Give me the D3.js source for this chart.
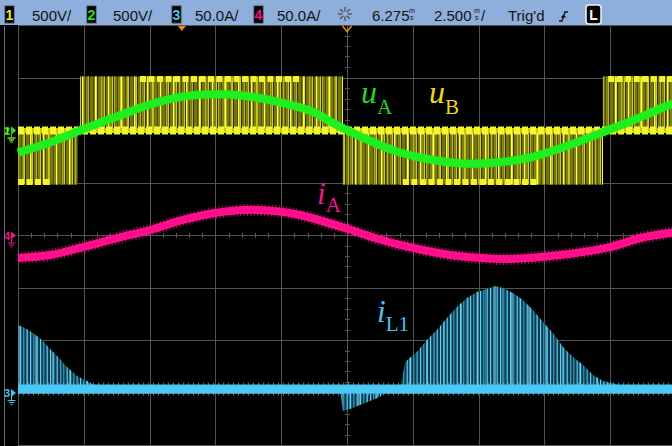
<!DOCTYPE html>
<html>
<head>
<meta charset="utf-8">
<script src="https://cdn.jsdelivr.net/npm/d3@7"></script>
<style>
  html, body { margin: 0; padding: 0; background: #000; overflow: hidden; }
  svg { display: block; }
</style>
</head>
<body>
<svg id="scope" width="672" height="446"></svg>
<script>
// ---------------- data ----------------
// status bar
const channelIds = ["1", "2", "3", "4"];
const channelScales = ["500V/", "500V/", "50.0A/", "50.0A/"];
const delayText = "6.275";
const timebaseText = "2.500";
const triggerText = "Trig'd";

// time base: ms, 2.5 ms/div, delay 6.275 ms at screen centre
const timeStart = -6.225, timeEnd = 18.775, delayMs = 6.275, msPerDiv = 2.5;

// phase voltage u_A (ch2), ms -> V
const uA_t = [-6.225, -5.01, -3.87, -2.46, -1.21, 0.04, 0.92, 1.75, 2.82, 3.92, 5.06, 5.63,
              6.88, 8.17, 9.43, 10.68, 11.97, 13.23, 14.48, 15.77, 17.03, 18.28, 18.775];
const uA_v = [-210, -114, 0, 133, 248, 324, 343, 343, 314, 257, 171, 86,
              -67, -200, -276, -314, -305, -257, -162, -38, 86, 219, 267];

// switched voltage u_B (ch1): PWM half-cycle segments, ms and polarity
const pwmStart = [-6.225, -3.87, 6.12, 16.0];
const pwmEnd   = [-3.95, 6.12, 16.0, 18.775];
const pwmSign  = [-1, 1, -1, 1];
const uDC = 515;
// spans where the output dwells at the full level
const dwellStart = [-6.225, -1.59, 8.40, 16.2];
const dwellEnd   = [-5.0, 4.49, 13.49, 18.775];
const dwellSign  = [-1, 1, -1, 1];

// phase current i_A (ch4), ms -> A
const iA_t = [-6.225, -5.01, -3.76, -2.46, -1.21, 0.04, 1.26, 2.40, 3.54, 4.49, 6.20, 7.34,
              8.29, 10.19, 11.33, 12.47, 14.37, 16.27, 17.41, 18.775];
const iA_v = [-21.4, -18.6, -11.0, -2.4, 5.2, 14.8, 21.4, 24.3, 23.3, 19.5, 7.1, -2.4,
              -9.0, -18.6, -21.4, -22.4, -18.6, -11.0, -2.4, 3.3];

// inductor current i_L1 (ch3): baseline and spike envelopes, ms -> A
const iL1_base = 3.8;
const iL1Decay_t = [-6.225, -5.96, -5.655, -5.313, -5.009, -4.705, -4.363, -3.983, -3.603, -3.299, -3.034];
const iL1Decay_v = [64.8, 61.9, 57.1, 50.5, 41.9, 34.3, 24.8, 16.2, 11.4, 7.6, 3.8];
const iL1Hump_t = [8.29, 8.48, 8.93, 9.31, 9.69, 10.07, 10.45, 10.83, 11.21, 11.59, 11.90, 12.20,
                   12.58, 12.96, 13.34, 13.72, 14.10, 14.48, 14.86, 15.24, 15.62, 16.00, 16.38, 16.65, 16.88];
const iL1Hump_v = [3.8, 29.5, 39.0, 50.5, 60.0, 71.4, 81.9, 90.5, 96.2, 99.0, 101.9, 100.0,
                   95.2, 88.6, 79.0, 67.6, 57.1, 43.8, 34.3, 26.7, 17.1, 11.4, 9.5, 6.7, 3.8];
const iL1Dip_t = [6.01, 6.12, 6.39, 6.77, 7.15, 7.53, 7.83];
const iL1Dip_v = [3.8, -17.1, -15.2, -11.4, -7.6, -3.8, 3.8];

// ---------------- scales ----------------
const svg = d3.select("#scope");
const W = 672, H = 446;
const x = d3.scaleLinear().domain([timeStart, timeEnd]).range([18, 676]);
const yDiv = d3.scaleLinear().domain([4, -4]).range([25.5, 445.5]);
const yU = d3.scaleLinear().domain([0, 500]).range([yDiv(2), yDiv(3)]);       // ch1/ch2, 500 V/div
const yI4 = d3.scaleLinear().domain([0, 50]).range([yDiv(0), yDiv(1)]);       // ch4, 50 A/div
const yI3 = d3.scaleLinear().domain([0, 50]).range([yDiv(-3), yDiv(-2)]);     // ch3, 50 A/div

const zip = (a, b) => a.map((d, i) => [d, b[i]]);

svg.append("rect").attr("width", W).attr("height", H).attr("fill", "#000");

// ---------------- textures ----------------
const defs = svg.append("defs");
function stripes(id, width, bars) {
  const p = defs.append("pattern").attr("id", id).attr("patternUnits", "userSpaceOnUse")
    .attr("width", width).attr("height", 8);
  bars.forEach(b => p.append("rect").attr("x", b[0]).attr("y", 0).attr("width", b[1]).attr("height", 8).attr("fill", b[2]));
}
stripes("pwmA", 8, [[0, 1, "#e8e824"], [2, 0.8, "#8c8c12"], [3.5, 1, "#cccc1c"], [5.4, 0.7, "#66660c"], [6.5, 1, "#e4e42a"]]);
stripes("pwmB", 13, [[4, 1.4, "#ffff44"], [10, 1, "#b4b41a"]]);
stripes("spkA", 10, [[0, 1.2, "#5ad2f8"], [3.3, 1, "#3aa8d0"], [6.6, 1.2, "#55cdf5"]]);
stripes("spkB", 17, [[1.5, 1, "#7fe0ff"], [9, 0.8, "#2f8fb4"]]);

// ---------------- graticule ----------------
const grid = svg.append("g").attr("stroke", "#555").attr("stroke-width", 1).attr("shape-rendering", "crispEdges");
const divTimes = d3.range(0, 11).map(i => timeStart + i * msPerDiv);
grid.selectAll("line.v").data(divTimes).join("line")
  .attr("x1", d => Math.round(x(d)) + 0.5).attr("x2", d => Math.round(x(d)) + 0.5)
  .attr("y1", yDiv(4)).attr("y2", yDiv(-4));
grid.selectAll("line.h").data(d3.range(-4, 5)).join("line")
  .attr("x1", x(timeStart)).attr("x2", x(timeEnd))
  .attr("y1", d => Math.floor(yDiv(d)) + 0.5).attr("y2", d => Math.floor(yDiv(d)) + 0.5);
// minor ticks on the centre axes
const minorT = d3.range(0, 51).map(i => timeStart + i * msPerDiv / 5);
grid.selectAll("line.mt").data(minorT).join("line")
  .attr("x1", d => Math.round(x(d)) + 0.5).attr("x2", d => Math.round(x(d)) + 0.5)
  .attr("y1", Math.floor(yDiv(0)) - 2).attr("y2", Math.floor(yDiv(0)) + 3);
const minorV = d3.range(-20, 21).map(i => i / 5);
grid.selectAll("line.mv").data(minorV).join("line")
  .attr("x1", Math.round(x(delayMs)) - 2).attr("x2", Math.round(x(delayMs)) + 3)
  .attr("y1", d => Math.floor(yDiv(d)) + 0.5).attr("y2", d => Math.floor(yDiv(d)) + 0.5);
// bezel edge
svg.append("line").attr("x1", 4.5).attr("x2", 4.5).attr("y1", 26).attr("y2", H)
  .attr("stroke", "#6c6c6c").attr("stroke-width", 1);

// ---------------- ch1: u_B switching waveform ----------------
const pwm = pwmStart.map((s, i) => ({ s, e: pwmEnd[i], k: pwmSign[i] }));
const gB = svg.append("g");
const bandRect = sel => sel
  .attr("x", d => x(d.s)).attr("width", d => x(d.e) - x(d.s))
  .attr("y", d => Math.min(yU(0), yU(d.k * uDC)))
  .attr("height", d => Math.abs(yU(d.k * uDC) - yU(0)));
gB.selectAll("rect.haze").data(pwm).join("rect").call(bandRect).attr("fill", "#34340a");
gB.selectAll("rect.sa").data(pwm).join("rect").call(bandRect).attr("fill", "url(#pwmA)").attr("opacity", 0.85);
gB.selectAll("rect.sb").data(pwm).join("rect").call(bandRect).attr("fill", "url(#pwmB)");
// full-level dwell traces
const dwell = dwellStart.map((s, i) => ({ s, e: dwellEnd[i], k: dwellSign[i] }));
gB.selectAll("line.dw").data(dwell).join("line")
  .attr("x1", d => x(d.s)).attr("x2", d => x(d.e))
  .attr("y1", d => yU(d.k * (uDC - 25))).attr("y2", d => yU(d.k * (uDC - 25)))
  .attr("stroke", "#f4f42a").attr("stroke-width", 6).attr("stroke-dasharray", "6 2.5");
// zero-level trace
gB.append("line").attr("x1", x(timeStart)).attr("x2", x(timeEnd)).attr("y1", yU(0)).attr("y2", yU(0))
  .attr("stroke", "#caca16").attr("stroke-width", 5);
gB.append("line").attr("x1", x(timeStart)).attr("x2", x(timeEnd)).attr("y1", yU(0)).attr("y2", yU(0))
  .attr("stroke", "#f6f62c").attr("stroke-width", 8).attr("stroke-dasharray", "6 2");

// ---------------- ch2: u_A ----------------
const lineU = d3.line().x(d => x(d[0])).y(d => yU(d[1])).curve(d3.curveCatmullRom);
svg.append("path").datum(zip(uA_t, uA_v)).attr("d", lineU)
  .attr("fill", "none").attr("stroke", "#1ef01e").attr("stroke-width", 8);
svg.append("path").datum(zip(uA_t, uA_v)).attr("d", lineU)
  .attr("fill", "none").attr("stroke", "#1ef01e").attr("stroke-width", 10).attr("stroke-dasharray", "1 3").attr("opacity", 0.6);

// ---------------- ch4: i_A ----------------
const lineI4 = d3.line().x(d => x(d[0])).y(d => yI4(d[1])).curve(d3.curveCatmullRom);
svg.append("path").datum(zip(iA_t, iA_v)).attr("d", lineI4)
  .attr("fill", "none").attr("stroke", "#ff0f8c").attr("stroke-width", 8);
svg.append("path").datum(zip(iA_t, iA_v)).attr("d", lineI4)
  .attr("fill", "none").attr("stroke", "#ff0f8c").attr("stroke-width", 12).attr("stroke-dasharray", "1 2.5").attr("opacity", 0.7);

// ---------------- ch3: i_L1 ----------------
const areaI3 = d3.area().x(d => x(d[0])).y0(yI3(iL1_base)).y1(d => yI3(d[1]));
const bursts = [zip(iL1Decay_t, iL1Decay_v), zip(iL1Hump_t, iL1Hump_v), zip(iL1Dip_t, iL1Dip_v)];
const gC = svg.append("g");
gC.selectAll("path.haze").data(bursts).join("path").attr("d", areaI3).attr("fill", "#113b4c");
gC.selectAll("path.sa").data(bursts).join("path").attr("d", areaI3).attr("fill", "url(#spkA)");
gC.selectAll("path.sb").data(bursts).join("path").attr("d", areaI3).attr("fill", "url(#spkB)");
gC.append("line").attr("x1", x(timeStart)).attr("x2", x(timeEnd))
  .attr("y1", yI3(iL1_base)).attr("y2", yI3(iL1_base))
  .attr("stroke", "#4cc8f6").attr("stroke-width", 9);
gC.append("line").attr("x1", x(timeStart)).attr("x2", x(timeEnd))
  .attr("y1", yI3(iL1_base)).attr("y2", yI3(iL1_base))
  .attr("stroke", "#4cc8f6").attr("stroke-width", 13).attr("stroke-dasharray", "1 4").attr("opacity", 0.6);

// ---------------- ground markers ----------------
function marker(id, yPos, col) {
  const g = svg.append("g").attr("fill", col).attr("stroke", col);
  g.append("text").attr("x", 4).attr("y", yPos + 4).attr("stroke", "none")
    .attr("font-family", "Liberation Sans, Arial, sans-serif").attr("font-size", 11).attr("font-weight", "bold").text(id);
  g.append("path").attr("d", `M11,${yPos - 4}L16,${yPos}L11,${yPos + 4}Z`).attr("stroke", "none");
  g.append("path").attr("fill", "none").attr("stroke-width", 1)
    .attr("d", `M11.5,${yPos + 3}V${yPos + 7}M7.5,${yPos + 7.5}H15.5M9,${yPos + 9.5}H14M10.5,${yPos + 11.5}H12.5`);
}
marker("1", yU(0), "#e8e81c");
marker("2", yU(0), "#1ee01e");
marker("4", yI4(0), "#f0148c");
marker("3", yI3(0), "#48c4f0");

// ---------------- trace labels ----------------
function label(xp, yp, main, sub, col, size, subSize, drop) {
  const t = svg.append("text").attr("x", xp).attr("y", yp)
    .attr("font-family", "Liberation Serif, Times New Roman, serif").attr("fill", col);
  t.append("tspan").attr("font-style", "italic").attr("font-size", size).text(main);
  t.append("tspan").attr("font-size", subSize).attr("dy", drop).text(sub);
}
label(361, 103, "u", "A", "#22d622", 32, 21, 11);
label(429, 103, "u", "B", "#e8dc1c", 32, 21, 11);
label(317, 204, "i", "A", "#f01890", 31, 21, 8);
label(377, 322, "i", "L1", "#4cc4ec", 31, 21, 9);

// ---------------- status bar ----------------
const bar = svg.append("g");
bar.append("rect").attr("x", 0).attr("y", 0).attr("width", W).attr("height", 25).attr("fill", "#8eaedb");
const boxX = [5, 87, 172, 254], textX = [32, 113, 195, 277];
const chCol = ["#f0f020", "#22e622", "#48c8f0", "#f0148c"];
channelIds.forEach((id, i) => {
  bar.append("rect").attr("x", boxX[i]).attr("y", 6).attr("width", 9).attr("height", 17)
    .attr("fill", "#000").attr("stroke", "#3a3a3a").attr("stroke-width", 0.8);
  bar.append("text").attr("x", boxX[i] + 4.5).attr("y", 20).attr("text-anchor", "middle")
    .attr("font-family", "Liberation Sans, Arial, sans-serif").attr("font-size", 14).attr("font-weight", "bold")
    .attr("fill", chCol[i]).text(id);
  bar.append("text").attr("x", textX[i]).attr("y", 21)
    .attr("font-family", "Liberation Sans, Arial, sans-serif").attr("font-size", 15).attr("fill", "#141414")
    .text(channelScales[i]);
});
// acquisition indicator
const sun = bar.append("g").attr("stroke", "#3c3c3c").attr("stroke-width", 1.1);
d3.range(8).forEach(k => {
  const a = k * Math.PI / 4;
  sun.append("line").attr("x1", 345 + 2.5 * Math.cos(a)).attr("y1", 14 + 2.5 * Math.sin(a))
    .attr("x2", 345 + 7 * Math.cos(a)).attr("y2", 14 + 7 * Math.sin(a));
});
const barText = (xp, s, size, yp) => bar.append("text").attr("x", xp).attr("y", yp || 21)
  .attr("font-family", "Liberation Sans, Arial, sans-serif").attr("font-size", size).attr("fill", "#141414").text(s);
barText(372, delayText, 15);
barText(409, "m", 7, 13); barText(410, "s", 7, 20);
barText(434, timebaseText, 15);
barText(474, "m", 7, 13); barText(475, "s", 7, 20);
barText(481, "/", 15);
barText(508, triggerText, 15);
// trigger slope glyph
bar.append("path").attr("d", "M559,21H562L565,12H568M561.5,17.5L563.5,15.5L565.5,17.5")
  .attr("fill", "none").attr("stroke", "#141414").attr("stroke-width", 1.4);
bar.append("rect").attr("x", 586).attr("y", 5).attr("width", 15).attr("height", 19).attr("rx", 3)
  .attr("fill", "#000").attr("stroke", "#f4f4f4").attr("stroke-width", 1.5);
bar.append("text").attr("x", 593.5).attr("y", 20).attr("text-anchor", "middle")
  .attr("font-family", "Liberation Sans, Arial, sans-serif").attr("font-size", 14).attr("font-weight", "bold")
  .attr("fill", "#fff").text("L");

// trigger point and delay reference
svg.append("path").attr("d", `M${x(0) - 4},26L${x(0) + 4},26L${x(0)},31Z`).attr("fill", "#f08a00");
svg.append("path").attr("d", `M${x(delayMs) - 4.5},26L${x(delayMs)},31.5L${x(delayMs) + 4.5},26`)
  .attr("fill", "none").attr("stroke", "#f08a00").attr("stroke-width", 1.5);
</script>
</body>
</html>
